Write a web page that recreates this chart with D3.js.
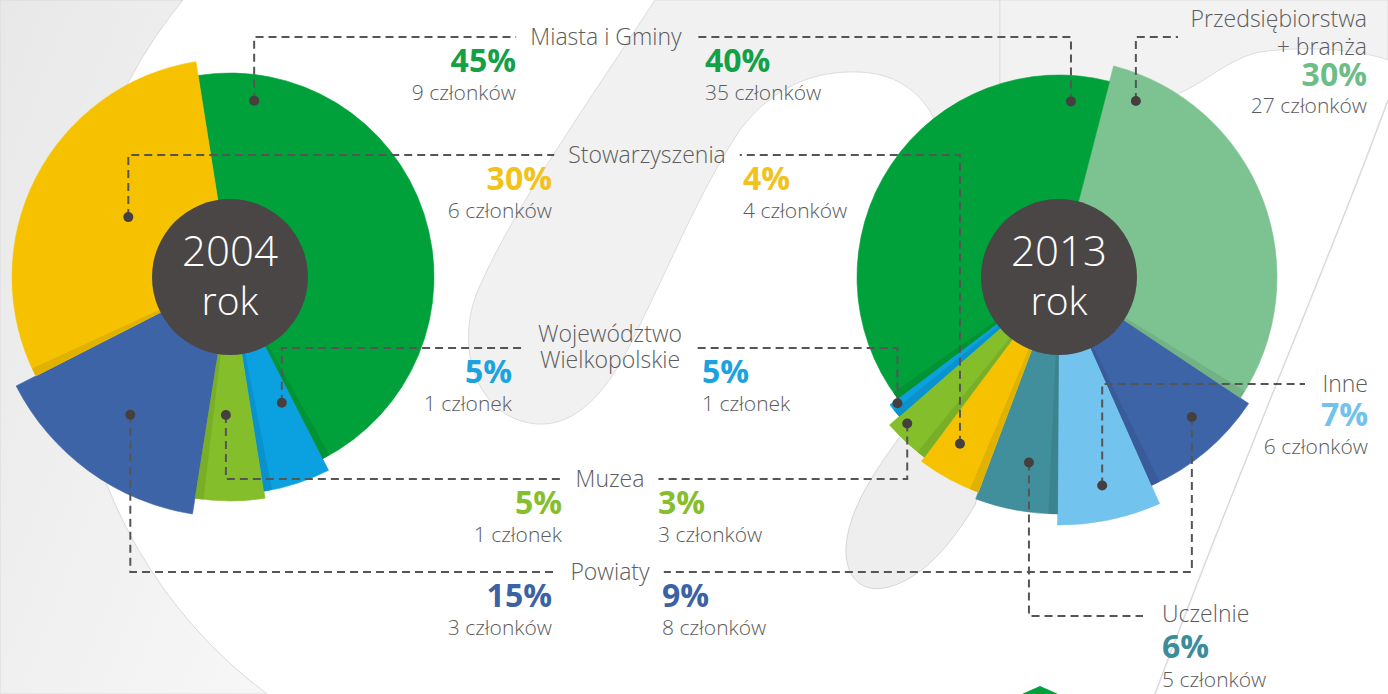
<!DOCTYPE html>
<html>
<head>
<meta charset="utf-8">
<script src="https://cdn.jsdelivr.net/npm/d3@7"></script>
<style>
  body { margin: 0; background: #fff; }
  svg { display: block; font-family: "Open Sans", sans-serif; }
</style>
</head>
<body>
<div id="visContainer"></div>
<script>
// data
let categories = ["Miasta i Gminy", "Stowarzyszenia", "Województwo Wielkopolskie", "Muzea",
                  "Powiaty", "Przedsiębiorstwa + branża", "Inne", "Uczelnie"];
let members2004 = [9, 6, 1, 1, 3, 0, 0, 0];
let percent2004 = ["45%", "30%", "5%", "5%", "15%", "", "", ""];
let members2013 = [35, 4, 1, 3, 8, 27, 6, 5];
let percent2013 = ["40%", "4%", "5%", "3%", "9%", "30%", "7%", "6%"];
let years = ["2004", "2013"];

// clockwise order of the slices in each pie
let order2004 = ["Miasta i Gminy", "Województwo Wielkopolskie", "Muzea", "Powiaty", "Stowarzyszenia"];
let order2013 = ["Przedsiębiorstwa + branża", "Powiaty", "Inne", "Uczelnie", "Stowarzyszenia",
                 "Muzea", "Województwo Wielkopolskie", "Miasta i Gminy"];

let width = 1388;
let height = 694;

let colors = d3.scaleOrdinal()
        .domain(categories)
        .range(["#00a13b", "#f6c200", "#0ba0df", "#84bf2b", "#3e64a8", "#7dc391", "#72c3ee", "#418f9c"]);
let textColors = d3.scaleOrdinal()
        .domain(categories)
        .range(["#14a046", "#f3c21a", "#1ba3df", "#86be2e", "#3c62a6", "#6dbd86", "#72c2ec", "#3b8d9b"]);

// each slice sticks out by its own radius
let radius2004 = {"Miasta i Gminy": 204, "Województwo Wielkopolskie": 217, "Muzea": 224,
                  "Powiaty": 240, "Stowarzyszenia": 218};
let radius2013 = {"Przedsiębiorstwa + branża": 218, "Powiaty": 228, "Inne": 248, "Uczelnie": 237,
                  "Stowarzyszenia": 230, "Muzea": 225, "Województwo Wielkopolskie": 212,
                  "Miasta i Gminy": 202};

// where the connector dot sits inside a slice: [angle in degrees, radius]
let dots2004 = {"Miasta i Gminy": [7.8, 178], "Stowarzyszenia": [300.5, 118],
                "Województwo Wielkopolskie": [157.6, 136], "Muzea": [181.7, 138], "Powiaty": [215.9, 170]};
let dots2013 = {"Miasta i Gminy": [3.9, 176], "Przedsiębiorstwa + branża": [23.6, 192],
                "Stowarzyszenia": [210.7, 194], "Województwo Wielkopolskie": [232, 205],
                "Muzea": [226, 211], "Uczelnie": [189.2, 188], "Inne": [168.3, 213], "Powiaty": [136.5, 193]};

let pies = {
  "2004": {cx: 230, cy: 277, start: -9, order: order2004, radius: radius2004, dots: dots2004,
           members: members2004, percent: percent2004},
  "2013": {cx: 1059, cy: 277, start: 14.5, order: order2013, radius: radius2013, dots: dots2013,
           members: members2013, percent: percent2013}
};

// labels for the categories present in both years
let shared = [
  {name: "Miasta i Gminy", x: 606, y: 37, left: 516, right: 705},
  {name: "Stowarzyszenia", x: 647, y: 155, left: 552, right: 743},
  {name: "Województwo Wielkopolskie", x: 610, y: 348, left: 512, right: 702},
  {name: "Muzea", x: 610, y: 479, left: 562, right: 658},
  {name: "Powiaty", x: 610, y: 572, left: 552, right: 662}
];
// labels only used by 2013
let single = [
  {name: "Przedsiębiorstwa + branża", y: 37, end: 1178, anchor: "end", tx: 1367, ty: 27, py: 86, my: 113},
  {name: "Inne", y: 384, end: 1305, anchor: "end", tx: 1368, ty: 392, py: 426, my: 454},
  {name: "Uczelnie", y: 616, end: 1143, anchor: "start", tx: 1162, ty: 622, py: 658, my: 687}
];
let labelLines = {"Województwo Wielkopolskie": ["Województwo", "Wielkopolskie"],
                  "Przedsiębiorstwa + branża": ["Przedsiębiorstwa", "+ branża"]};

let grey = "#5c5c5c";
let lineGrey = "#555555";
let dotColor = "#45403f";

function rad(deg) {
  return deg * Math.PI / 180;
}

function memberText(n) {
  return n == 1 ? "1 członek" : n + " członków";
}

function lowerHalf(a) {
  let deg = ((a * 180 / Math.PI) % 360 + 360) % 360;
  return deg > 90 && deg < 270;
}

function drawBackground(svg) {
  let defs = svg.append("defs");
  let grad = defs.append("linearGradient")
          .attr("id", "leftFade")
          .attr("x1", 0).attr("y1", 0).attr("x2", 1).attr("y2", 1);
  grad.append("stop").attr("offset", 0).attr("stop-color", "#e8e8e8");
  grad.append("stop").attr("offset", 1).attr("stop-color", "#f7f7f7");

  let bg = svg.append("g").attr("id", "background");
  // the big white disc leaves grey in the left corners
  bg.append("path")
    .attr("d", "M0,0 L183,0 A483,483 0 0,0 267,694 L0,694 Z")
    .attr("fill", "url(#leftFade)")
    .attr("stroke", "#dadada");
  // ribbon behind the middle labels
  bg.append("path")
    .attr("d", "M655,0 C590,100 515,205 478,290 C455,345 475,410 525,422 C565,432 600,405 630,345 " +
               "C670,265 700,190 740,130 C770,90 810,70 860,72 C900,74 925,95 940,130 L1000,130 L1000,0 Z")
    .attr("fill", "#f1f1f1")
    .attr("stroke", "#dcdcdc");
  bg.append("path")
    .attr("d", "M1000,0 L1000,100 L1150,100 C1190,100 1220,60 1260,52 C1310,45 1360,50 1388,60 L1388,0 Z")
    .attr("fill", "#f2f2f2")
    .attr("stroke", "#dddddd");
  // lower ribbon under the 2013 pie
  bg.append("path")
    .attr("d", "M905,430 C875,470 848,510 846,548 C845,578 862,592 884,588 C915,582 945,555 975,505 L990,450 Z")
    .attr("fill", "#eeeeee")
    .attr("stroke", "#d6d6d6");
  bg.append("path")
    .attr("d", "M1388,100 C1330,260 1250,440 1155,694")
    .attr("fill", "none")
    .attr("stroke", "#dadada")
    .attr("stroke-width", 1.5);
  // green tip at the bottom edge
  bg.append("path")
    .attr("d", "M1022,694 L1040,686 L1058,694 Z")
    .attr("fill", "#00a13b");
}

function drawPie(svg, year) {
  let cfg = pies[year];
  let data = cfg.order.map(name => ({name: name, value: cfg.members[categories.indexOf(name)]}));

  let pie = d3.pie()
          .sort(null)
          .value(d => d.value)
          .startAngle(rad(cfg.start))
          .endAngle(rad(cfg.start + 360));
  let arcs = pie(data);

  let arc = d3.arc()
          .innerRadius(0)
          .outerRadius(d => cfg.radius[d.data.name]);

  let g = svg.append("g")
          .attr("id", "pie" + year)
          .attr("transform", "translate(" + cfg.cx + "," + cfg.cy + ")");

  g.selectAll("path.slice")
    .data(arcs)
    .join("path")
      .attr("class", "slice")
      .attr("d", arc)
      .attr("fill", d => colors(d.data.name))
      .attr("stroke", d => colors(d.data.name))
      .attr("stroke-width", 0.6);

  // darker strip where a lower slice meets a taller one (only on the bottom half)
  let w = rad(2.2);
  let shadows = [];
  arcs.forEach((d, i) => {
    let next = arcs[(i + 1) % arcs.length];
    let prev = arcs[(i - 1 + arcs.length) % arcs.length];
    let r = cfg.radius[d.data.name];
    if(cfg.radius[next.data.name] > r && lowerHalf(d.endAngle)) {
      shadows.push({name: d.data.name, startAngle: d.endAngle - w, endAngle: d.endAngle, r: r});
    }
    if(cfg.radius[prev.data.name] > r && lowerHalf(d.startAngle)) {
      shadows.push({name: d.data.name, startAngle: d.startAngle, endAngle: d.startAngle + w, r: r});
    }
  });

  g.selectAll("path.shadow")
    .data(shadows)
    .join("path")
      .attr("class", "shadow")
      .attr("d", d => d3.arc().innerRadius(0).outerRadius(d.r)(d))
      .attr("fill", d => d3.color(colors(d.name)).darker(0.25));

  g.append("circle")
    .attr("r", 78)
    .attr("fill", "#4a4646");

  g.append("text")
    .attr("y", -11)
    .attr("text-anchor", "middle")
    .attr("font-size", 42)
    .attr("font-weight", 300)
    .attr("fill", "#fff")
    .text(year);

  g.append("text")
    .attr("y", 38)
    .attr("text-anchor", "middle")
    .attr("font-size", 39)
    .attr("font-weight", 300)
    .attr("fill", "#fff")
    .text("rok");
}

function dotPosition(year, name) {
  let cfg = pies[year];
  let p = cfg.dots[name];
  let xy = d3.pointRadial(rad(p[0]), p[1]);
  return [cfg.cx + xy[0], cfg.cy + xy[1]];
}

function writeNumbers(g, year, name, x, py, my, anchor) {
  let i = categories.indexOf(name);
  let cfg = pies[year];
  g.append("text")
    .attr("x", x)
    .attr("y", py)
    .attr("text-anchor", anchor)
    .attr("font-size", 32)
    .attr("font-weight", "bold")
    .attr("fill", textColors(name))
    .text(cfg.percent[i]);
  g.append("text")
    .attr("x", x)
    .attr("y", my)
    .attr("text-anchor", anchor)
    .attr("font-size", 21)
    .attr("font-weight", 300)
    .attr("fill", grey)
    .text(memberText(cfg.members[i]));
}

function drawConnectors(svg) {
  let lines = svg.append("g")
          .attr("id", "connectors")
          .attr("fill", "none")
          .attr("stroke", lineGrey)
          .attr("stroke-width", 2)
          .attr("stroke-dasharray", "8,5");
  let texts = svg.append("g").attr("id", "labels");
  let dots = [];
  let gap = 14;

  for(let s of shared) {
    let parts = labelLines[s.name] || [s.name];
    let label = texts.append("text")
            .attr("text-anchor", "middle")
            .attr("font-size", 23)
            .attr("font-weight", 300)
            .attr("fill", grey);
    if(parts.length == 1) {
      label.append("tspan").attr("x", s.x).attr("y", s.y + 8).text(parts[0]);
    } else {
      label.append("tspan").attr("x", s.x).attr("y", s.y - 6).text(parts[0]);
      label.append("tspan").attr("x", s.x).attr("y", s.y + 20).text(parts[1]);
    }
    let w = label.node().getBBox().width;

    let a = dotPosition("2004", s.name);
    let b = dotPosition("2013", s.name);
    lines.append("path").attr("d", "M" + a[0] + "," + a[1] + "V" + s.y + "H" + (s.x - w / 2 - gap));
    lines.append("path").attr("d", "M" + b[0] + "," + b[1] + "V" + s.y + "H" + (s.x + w / 2 + gap));
    dots.push(a, b);

    writeNumbers(texts, "2004", s.name, s.left, s.y + 35, s.y + 63, "end");
    writeNumbers(texts, "2013", s.name, s.right, s.y + 35, s.y + 63, "start");
  }

  for(let s of single) {
    let parts = labelLines[s.name] || [s.name];
    let label = texts.append("text")
            .attr("text-anchor", s.anchor)
            .attr("font-size", 23)
            .attr("font-weight", 300)
            .attr("fill", grey);
    parts.forEach((p, k) => {
      label.append("tspan").attr("x", s.tx).attr("y", s.ty + k * 28).text(p);
    });
    let b = dotPosition("2013", s.name);
    lines.append("path").attr("d", "M" + b[0] + "," + b[1] + "V" + s.y + "H" + s.end);
    dots.push(b);
    writeNumbers(texts, "2013", s.name, s.tx, s.py, s.my, s.anchor);
  }

  svg.append("g")
    .attr("id", "dots")
    .selectAll("circle")
    .data(dots)
    .join("circle")
      .attr("cx", d => d[0])
      .attr("cy", d => d[1])
      .attr("r", 5)
      .attr("fill", dotColor);
}

let svg = d3.select("#visContainer")
        .append("svg")
        .attr("width", width)
        .attr("height", height);

svg.append("rect").attr("width", width).attr("height", height).attr("fill", "#fff");
drawBackground(svg);
for(let year of years) drawPie(svg, year);
drawConnectors(svg);
</script>
</body>
</html>
